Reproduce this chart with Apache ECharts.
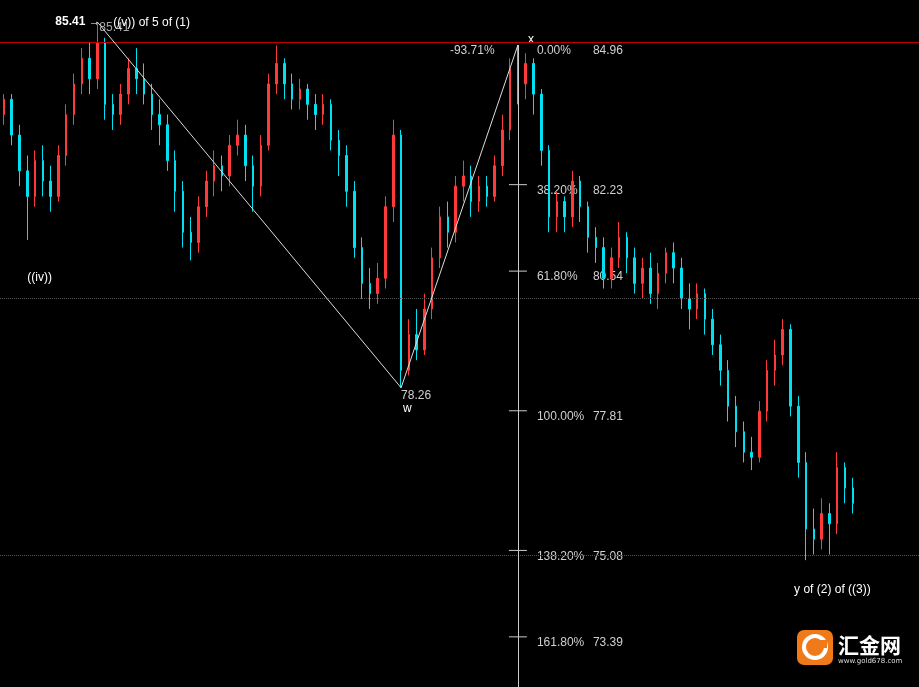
<!DOCTYPE html>
<html><head><meta charset="utf-8">
<script src="https://cdn.jsdelivr.net/npm/echarts@6/dist/echarts.min.js"></script>
<style>html,body{margin:0;padding:0;background:#000}#myecharts{width:919px;height:687px}</style>
</head><body><div id="myecharts"></div>
<script>
// candles: [open, close, low, high]
var candles = [
[83.6,83.9,83.4,84.0],[83.9,83.2,83.0,84.0],[83.2,82.5,82.2,83.4],[82.5,82.0,81.15,82.8],[82.0,82.7,81.8,82.9],
[82.7,82.3,82.0,83.0],[82.3,82.0,81.7,82.6],[82.0,82.8,81.9,83.0],[82.8,83.6,82.6,83.8],[83.6,84.2,83.4,84.4],
[84.2,84.7,84.0,84.9],[84.7,84.3,84.0,85.0],[84.3,85.0,84.1,85.41],[85.0,83.8,83.5,85.1],[83.8,83.6,83.3,84.0],
[83.6,84.0,83.4,84.2],[84.0,84.5,83.8,84.7],[84.5,84.3,84.0,84.9],[84.3,84.0,83.8,84.6],[84.0,83.6,83.3,84.2],
[83.6,83.4,83.0,83.9],[83.4,82.7,82.5,83.6],[82.7,82.1,81.7,82.9],[82.1,81.3,81.0,82.3],[81.3,81.1,80.75,81.6],
[81.1,81.8,80.9,82.0],[81.8,82.3,81.6,82.5],[82.3,82.6,82.0,82.9],[82.6,82.4,82.1,82.8],[82.4,83.0,82.2,83.2],
[83.0,83.2,82.8,83.5],[83.2,82.6,82.3,83.4],[82.6,82.2,81.7,82.8],[82.2,83.0,82.0,83.2],[83.0,84.2,82.9,84.4],
[84.2,84.6,84.0,84.95],[84.6,84.2,83.9,84.7],[84.2,83.9,83.7,84.4],[83.9,84.1,83.7,84.3],[84.1,83.8,83.5,84.2],
[83.8,83.6,83.3,84.0],[83.6,83.8,83.4,84.0],[83.8,83.1,82.9,83.9],[83.1,82.8,82.4,83.3],[82.8,82.1,81.8,83.0],
[82.1,81.0,80.8,82.3],[81.0,80.3,80.0,81.2],[80.3,80.1,79.8,80.6],[80.1,80.4,79.9,80.7],[80.4,81.8,80.2,82.0],
[81.8,83.2,81.5,83.5],[83.2,78.6,78.26,83.3],[78.6,79.3,78.5,79.6],[79.3,79.0,78.8,79.8],[79.0,79.8,78.9,80.1],
[79.8,80.8,79.6,81.0],[80.8,81.6,80.6,81.8],[81.6,81.3,81.0,81.9],[81.3,82.2,81.1,82.4],[82.2,82.4,81.9,82.7],
[82.4,81.9,81.6,82.6],[81.9,82.2,81.7,82.4],[82.2,82.0,81.8,82.4],[82.0,82.6,81.9,82.8],[82.6,83.3,82.4,83.6],
[83.3,84.5,83.1,84.7],[84.5,84.2,83.8,84.96],[84.2,84.6,83.9,84.8],[84.6,84.0,83.6,84.7],[84.0,82.9,82.6,84.1],
[82.9,81.6,81.3,83.0],[81.6,81.9,81.3,82.1],[81.9,81.6,81.3,82.0],[81.6,82.3,81.4,82.5],[82.3,81.8,81.5,82.4],
[81.8,81.2,80.9,81.9],[81.2,81.0,80.7,81.4],[81.0,80.4,80.2,81.2],[80.4,80.8,80.2,81.0],[80.8,81.2,80.6,81.5],
[81.2,80.8,80.5,81.3],[80.8,80.3,80.1,81.0],[80.3,80.6,80.0,80.8],[80.6,80.1,79.9,80.9],[80.1,80.5,79.8,80.7],
[80.5,80.9,80.3,81.0],[80.9,80.6,80.3,81.1],[80.6,80.0,79.8,80.8],[80.0,79.8,79.4,80.3],[79.8,80.1,79.6,80.3],
[80.1,79.6,79.3,80.2],[79.6,79.1,78.9,79.8],[79.1,78.6,78.3,79.3],[78.6,77.9,77.6,78.8],[77.9,77.4,77.1,78.1],
[77.4,77.0,76.8,77.6],[77.0,76.9,76.65,77.3],[76.9,77.8,76.8,78.0],[77.8,78.6,77.6,78.8],[78.6,78.9,78.3,79.2],
[78.9,79.4,78.7,79.6],[79.4,77.9,77.7,79.5],[77.9,76.8,76.5,78.1],[76.8,75.5,74.89,77.0],[75.5,75.3,75.0,75.9],
[75.3,75.8,75.1,76.1],[75.8,75.6,75.0,76.0],[75.6,76.7,75.4,77.0],[76.7,76.3,76.0,76.8],[76.3,76.0,75.8,76.5]
];
var slotCount = 118;
var categories = [];
for (var i = 0; i < slotCount; i++) categories.push(i);

var fibIndex = 66;
var fibPercents = ['0.00%', '38.20%', '61.80%', '100.00%', '138.20%', '161.80%'];
var fibPrices = [84.96, 82.23, 80.54, 77.81, 75.08, 73.39];
var wavePoints = [[12, 85.41], [51, 78.26], [66, 84.96]];
var redLevel = 85.02;
var dottedLevels = [80.0, 74.99];

var myChart = echarts.init(document.getElementById('myecharts'));
var option = {
    backgroundColor: '#000',
    animation: false,
    grid: {left: 0, right: 0, top: 0, bottom: 0},
    xAxis: {type: 'category', data: categories, show: false},
    yAxis: {type: 'value', min: 72.41, max: 85.84, show: false},
    series: [{
        type: 'candlestick',
        data: candles,
        barWidth: 2,
        itemStyle: {color: '#ff3a3a', color0: '#00e0f0', borderColor: '#ff3a3a', borderColor0: '#00e0f0', borderWidth: 1},
        markLine: {
            symbol: 'none', silent: true, label: {show: false},
            data: [
                {yAxis: redLevel, lineStyle: {color: '#c00000', type: 'solid', width: 1}},
                {yAxis: dottedLevels[0], lineStyle: {color: '#555', type: 'dotted', width: 1}},
                {yAxis: dottedLevels[1], lineStyle: {color: '#555', type: 'dotted', width: 1}},
                [{coord: wavePoints[0], lineStyle: {color: '#ddd', type: 'solid', width: 1}}, {coord: wavePoints[1]}],
                [{coord: wavePoints[1], lineStyle: {color: '#ddd', type: 'solid', width: 1}}, {coord: wavePoints[2]}],
                [{coord: [fibIndex, fibPrices[0]], lineStyle: {color: '#ccc', type: 'solid', width: 1}}, {coord: [fibIndex, 72.41]}]
            ]
        }
    }]
};
myChart.setOption(option);

function px(i, v) { return myChart.convertToPixel({gridIndex: 0}, [i, v]); }
var txt = '#d0d0d0';
var font = '12px "Liberation Sans", Arial, sans-serif';
var g = [];
function label(x, y, s, opt) {
    g.push({type: 'text', x: x, y: y, style: Object.assign({text: s, fill: txt, font: font, verticalAlign: 'middle'}, opt || {})});
}
var fx = px(fibIndex, 0)[0];
fibPrices.forEach(function (p, k) {
    var y = px(fibIndex, p)[1];
    if (k > 0) g.push({type: 'line', shape: {x1: fx - 9, y1: y, x2: fx + 9, y2: y}, style: {stroke: '#ccc', lineWidth: 1}});
    label(fx + 19, y + 6, fibPercents[k]);
    label(fx + 75, y + 6, fibPrices[k].toFixed(2));
});
var hi = px(wavePoints[0][0], wavePoints[0][1]);
label(hi[0] - 42, hi[1], '85.41 →', {fill: '#fff', font: 'bold 12px "Liberation Sans", Arial, sans-serif'});
label(hi[0] + 2, hi[1] + 6, '85.41', {fill: '#aaa'});
label(hi[0] + 16, hi[1] + 1, '((v)) of 5 of (1)', {fill: '#fff'});
var w = px(wavePoints[1][0], wavePoints[1][1]);
label(w[0], w[1] + 8, '78.26');
label(w[0] + 2, w[1] + 21, 'w', {fill: '#fff'});
var xp = px(wavePoints[2][0], wavePoints[2][1]);
label(xp[0] + 10, xp[1] - 5, 'x', {fill: '#fff'});
label(xp[0] - 68, xp[1] + 6, '-93.71%');
var iv = px(3, 81.15);
label(iv[0], iv[1] + 38, '((iv))', {fill: '#fff'});
var yl = px(103, 74.89);
label(yl[0] - 12, yl[1] + 30, 'y of (2) of ((3))', {fill: '#fff'});
// logo
g.push({type: 'rect', shape: {x: 797, y: 630, width: 36, height: 35, r: 7}, style: {fill: '#f07a1a'}});
g.push({type: 'circle', shape: {cx: 815, cy: 647, r: 11}, style: {fill: 'none', stroke: '#fff', lineWidth: 4}});
g.push({type: 'rect', shape: {x: 815, y: 640, width: 12, height: 8}, style: {fill: '#f07a1a'}});
label(838, 645, '汇金网', {fill: '#fff', font: 'bold 21px "Noto Sans CJK SC", sans-serif'});
label(838, 661, 'www.gold678.com', {fill: '#ddd', font: '7px "DejaVu Sans", sans-serif'});
myChart.setOption({graphic: g});
</script>
</body></html>
